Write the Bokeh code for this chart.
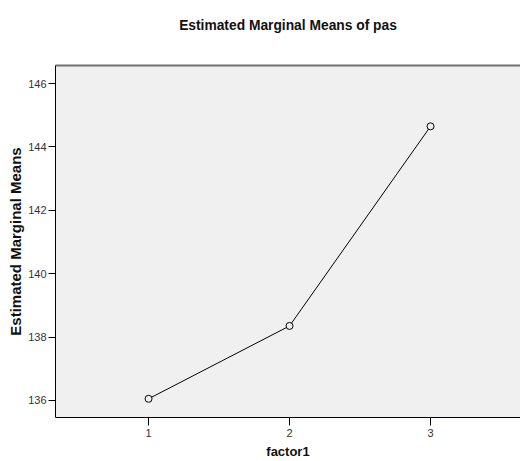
from bokeh.plotting import figure
from bokeh.models import LinearAxis, Range1d, FixedTicker
from bokeh.embed import file_html
from bokeh.resources import INLINE

factor1 = [1, 2, 3]
means = [136.05, 138.35, 144.65]
x_ticks = [1, 2, 3]
y_ticks = [136, 138, 140, 142, 144, 146]
title_text = "Estimated Marginal Means of pas"
x_label = "factor1"
y_label = "Estimated Marginal Means"

FONT = "Liberation Sans"
TICK_FONT = "Liberation Sans Narrow, Liberation Sans"

p = figure(width=520, height=461, output_backend="svg", toolbar_location=None,
           x_range=Range1d(0.34, 3.638), y_range=Range1d(135.46, 146.57),
           x_axis_location=None, y_axis_location=None,
           min_border_left=55, min_border_right=0, min_border_top=65, min_border_bottom=44)

p.background_fill_color = "#f0f0f0"
p.border_fill_color = "white"
p.outline_line_color = None
p.grid.visible = False

xa = LinearAxis(ticker=FixedTicker(ticks=x_ticks), axis_label=x_label)
ya = LinearAxis(ticker=FixedTicker(ticks=y_ticks), axis_label=y_label)
for ax in (xa, ya):
    ax.axis_line_color = "black"
    ax.axis_line_width = 1
    ax.major_tick_line_color = "black"
    ax.major_tick_in = 0
    ax.minor_tick_line_color = None
    ax.major_label_text_font = TICK_FONT
    ax.major_label_text_font_size = "11px"
    ax.major_label_text_color = "#333333"
    ax.axis_label_text_font = FONT
    ax.axis_label_text_font_style = "bold"
    ax.axis_label_text_color = "#111111"
xa.major_tick_out = 8
xa.major_label_standoff = 3
xa.axis_label_text_font_size = "13px"
xa.axis_label_standoff = 4
ya.major_tick_out = 7
ya.major_label_standoff = 2
ya.axis_label_text_font_size = "15px"
ya.axis_label_standoff = 1

# gray top border of the plot area
top = LinearAxis(ticker=FixedTicker(ticks=[]))
top.axis_line_color = "#707070"
top.axis_line_width = 2
top.major_tick_line_color = None
top.minor_tick_line_color = None
top.major_tick_out = 0
top.major_tick_in = 0
top.major_label_standoff = 0
top.major_label_text_font_size = "0px"

# chart title, carried by a line-less axis
tax = LinearAxis(ticker=FixedTicker(ticks=[]), axis_label=title_text)
tax.axis_line_color = None
tax.major_tick_line_color = None
tax.minor_tick_line_color = None
tax.major_tick_out = 0
tax.major_tick_in = 0
tax.major_label_standoff = 0
tax.major_label_text_font_size = "0px"
tax.axis_label_text_font = FONT
tax.axis_label_text_font_size = "13.8px"
tax.axis_label_text_font_style = "bold"
tax.axis_label_text_color = "#111111"
tax.axis_label_standoff = 33

p.add_layout(xa, "below")
p.add_layout(ya, "left")
p.add_layout(top, "above")
p.add_layout(tax, "above")

p.line(factor1, means, line_color="black", line_width=1)
p.scatter(factor1, means, marker="circle", size=7, line_color="black", line_width=1,
          fill_color="#f0f0f0")

open("out.html", "w").write(file_html(p, INLINE))
